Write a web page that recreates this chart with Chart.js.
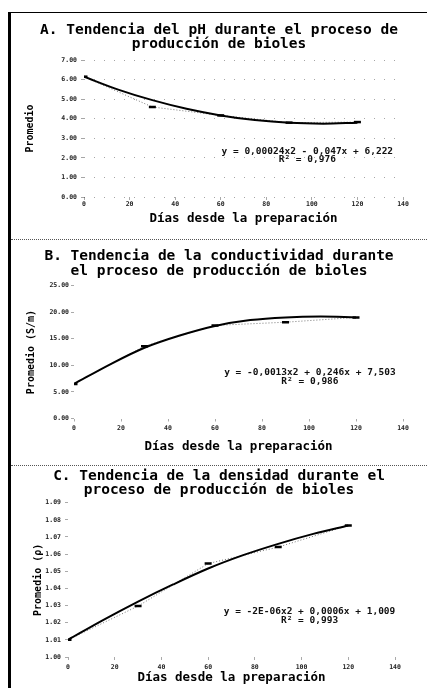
<!DOCTYPE html>
<html>
<head>
<meta charset="utf-8">
<script src="https://cdn.jsdelivr.net/npm/chart.js@4.4.1/dist/chart.umd.min.js"></script>
<style>
body{margin:0;background:#fff;width:427px;height:688px;overflow:hidden;position:relative;}
canvas{position:absolute;left:11px;}
.bar{position:absolute;background:#000;}
.sep{position:absolute;left:11px;width:416px;height:0;border-top:1px dotted #555;}
</style>
</head>
<body>
<div class="bar" style="left:8px;top:12px;width:3px;height:676px"></div>
<div class="bar" style="left:8px;top:12px;width:419px;height:1px"></div>
<canvas id="chartA" width="416" height="226" style="top:13px"></canvas>
<div class="sep" style="top:239px"></div>
<canvas id="chartB" width="416" height="225" style="top:240px"></canvas>
<div class="sep" style="top:465px"></div>
<canvas id="chartC" width="416" height="222" style="top:466px"></canvas>
<script>
// dias de medicion y puntos de la linea de tendencia
const days = [0, 30, 60, 90, 120];
const trendDays = [0, 15, 30, 45, 60, 75, 90, 105, 120];

// A. pH
const phMean  = [6.15, 4.60, 4.17, 3.80, 3.83];
const phTrend = [6.15, 5.49, 4.95, 4.51, 4.17, 3.93, 3.79, 3.75, 3.80];
// B. conductividad
const condMean  = [6.5, 13.6, 17.5, 18.1, 19.0];
const condTrend = [6.5, 10.1, 13.3, 15.6, 17.4, 18.5, 19.0, 19.15, 19.0];
// C. densidad
const densMean  = [1.0100, 1.0297, 1.0545, 1.0641, 1.0767];
const densTrend = [1.0100, 1.0215, 1.0323, 1.0423, 1.0516, 1.0594, 1.0660, 1.0718, 1.0767];

const titleA = ['A. Tendencia del pH durante el proceso de', 'producción de bioles'];
const titleB = ['B. Tendencia de la conductividad durante', 'el proceso de producción de bioles'];
const titleC = ['C. Tendencia de la densidad durante el', 'proceso de producción de bioles'];
const eqA = ['y = 0,00024x2 - 0,047x + 6,222', 'R² = 0,976'];
const eqB = ['y = -0,0013x2 + 0,246x + 7,503', 'R² = 0,986'];
const eqC = ['y = -2E-06x2 + 0,0006x + 1,009', 'R² = 0,993'];
const xLabel = 'Días desde la preparación';

const MONO = '"DejaVu Sans Mono", "Liberation Mono", monospace';

function pairs(xs, ys) {
  return xs.map((x, i) => ({x: x, y: ys[i]}));
}

// texto de la ecuacion de tendencia
const eqPlugin = {
  id: 'eq',
  afterDatasetsDraw(chart, args, opts) {
    const ctx = chart.ctx;
    const px = chart.scales.x.getPixelForValue(opts.at[0]);
    const py = chart.scales.y.getPixelForValue(opts.at[1]);
    ctx.save();
    ctx.font = 'bold 9.5px ' + MONO;
    ctx.fillStyle = '#111';
    ctx.textAlign = 'center';
    ctx.textBaseline = 'middle';
    opts.lines.forEach((t, i) => ctx.fillText(t, px, py + i * opts.gap));
    ctx.restore();
  }
};

function makeChart(id, c) {
  return new Chart(document.getElementById(id), {
    type: 'line',
    data: {
      datasets: [
        {
          label: 'tendencia',
          data: pairs(trendDays, c.trend),
          borderColor: '#000',
          borderWidth: 2,
          pointRadius: 0,
          cubicInterpolationMode: 'monotone'
        },
        {
          label: 'promedio',
          data: pairs(days, c.mean),
          borderColor: '#777',
          borderWidth: 1,
          borderDash: [1, 2],
          pointStyle: 'line',
          pointRadius: 3.5,
          pointBorderWidth: 2.5,
          pointBorderColor: '#000',
          pointBackgroundColor: '#000'
        }
      ]
    },
    options: {
      responsive: false,
      animation: false,
      devicePixelRatio: 1,
      layout: {padding: 0},
      plugins: {
        legend: {display: false},
        tooltip: {enabled: false},
        title: {
          display: true,
          text: c.title,
          color: '#000',
          font: {family: MONO, size: 14.5, weight: 'bold', lineHeight: c.titleLH},
          padding: c.titlePad
        },
        eq: {lines: c.eq, at: c.eqAt, gap: c.eqGap}
      },
      scales: {
        x: {
          type: 'linear',
          min: 0,
          max: 140,
          afterFit: s => { s.height = c.xHeight; },
          border: {display: false},
          grid: {drawOnChartArea: false, tickLength: 3, color: '#aaa'},
          ticks: {
            stepSize: 20,
            padding: c.xTickPad,
            maxRotation: 0,
            color: '#222',
            font: {family: MONO, size: 6.5, weight: 'bold'}
          },
          title: {
            display: true,
            text: xLabel,
            color: '#000',
            font: {family: MONO, size: 12.5, weight: 'bold', lineHeight: 1.2},
            padding: {top: 0, bottom: c.xTitlePad}
          }
        },
        y: {
          min: c.yMin,
          max: c.yMax,
          afterFit: s => { s.width = c.yWidth; },
          border: {display: false, dash: c.yDash},
          grid: c.yGrid,
          ticks: {
            stepSize: c.yStep,
            padding: c.yTickPad,
            color: '#222',
            font: {family: MONO, size: 6.5, weight: 'bold'},
            callback: v => v.toFixed(2)
          },
          title: {
            display: true,
            text: c.yLabel,
            color: '#000',
            font: {family: MONO, size: 10, weight: 'bold', lineHeight: 1.2},
            padding: {top: c.yTitlePad, bottom: 0}
          }
        },
        // margen derecho vacio, asi el titulo queda centrado en todo el ancho
        gap: {
          position: 'right',
          afterFit: s => { s.width = c.padRight; },
          border: {display: false},
          grid: {display: false},
          ticks: {display: false}
        }
      }
    },
    plugins: [eqPlugin]
  });
}

makeChart('chartA', {
  title: titleA, titleLH: 0.95, titlePad: {top: 10.5, bottom: 9},
  trend: phTrend, mean: phMean,
  yMin: 0, yMax: 7, yStep: 1, yLabel: 'Promedio',
  yGrid: {drawOnChartArea: true, tickLength: 3, color: 'rgba(0,0,0,0.35)', lineWidth: 1},
  yDash: [1, 9],
  yWidth: 73, padRight: 24, xHeight: 42,
  xTickPad: 0, xTitlePad: 12.5, yTickPad: 4, yTitlePad: 13,
  eq: eqA, eqAt: [98, 2.33], eqGap: 8.5
});

makeChart('chartB', {
  title: titleB, titleLH: 1.0, titlePad: {top: 9, bottom: 7.5},
  trend: condTrend, mean: condMean,
  yMin: 0, yMax: 25, yStep: 5, yLabel: 'Promedio (S/m)',
  yGrid: {drawOnChartArea: false, tickLength: 3, color: '#aaa'},
  yDash: [],
  yWidth: 63, padRight: 24, xHeight: 46.5,
  xTickPad: 3, xTitlePad: 10.5, yTickPad: 2, yTitlePad: 14.5,
  eq: eqB, eqAt: [100.4, 8.67], eqGap: 9
});

makeChart('chartC', {
  title: titleC, titleLH: 0.92, titlePad: {top: 4, bottom: 6},
  trend: densTrend, mean: densMean,
  yMin: 1.00, yMax: 1.09, yStep: 0.01, yLabel: 'Promedio (ρ)',
  yGrid: {drawOnChartArea: false, tickLength: 3, color: '#aaa'},
  yDash: [],
  yWidth: 57, padRight: 32, xHeight: 31,
  xTickPad: 3, xTitlePad: 3, yTickPad: 4, yTitlePad: 21,
  eq: eqC, eqAt: [103.4, 1.0263], eqGap: 9
});
</script>
</body>
</html>
